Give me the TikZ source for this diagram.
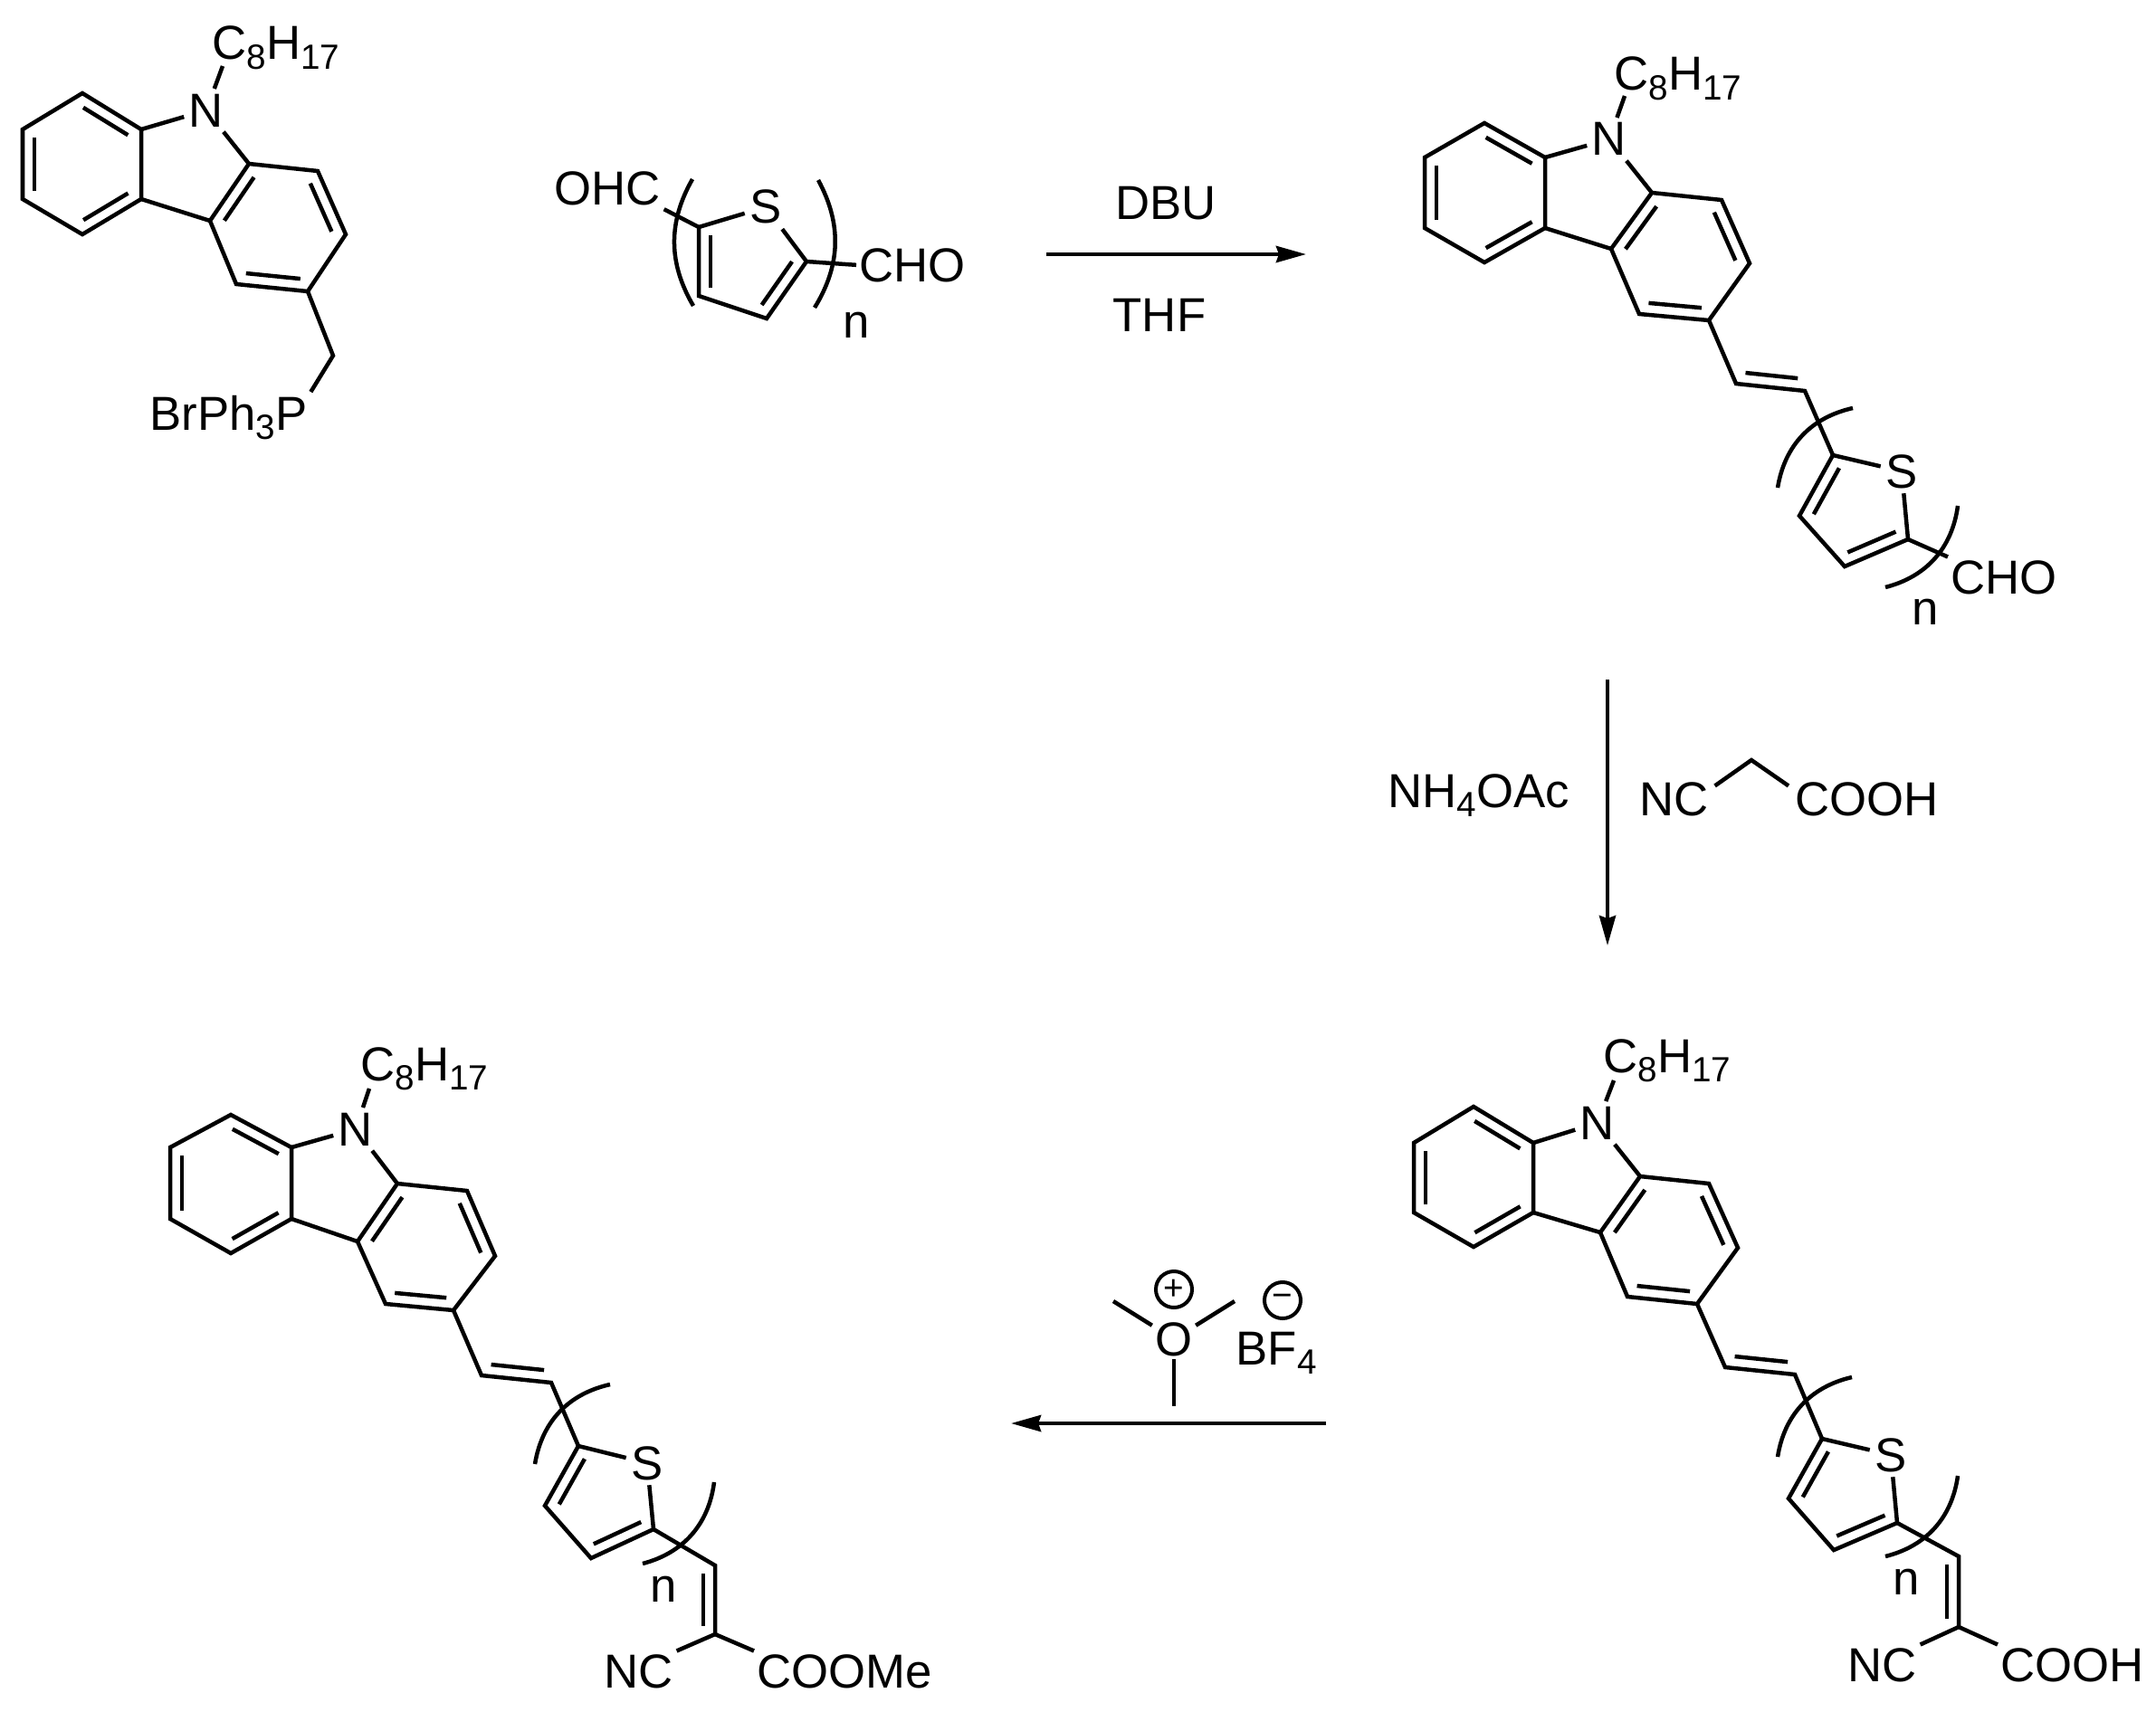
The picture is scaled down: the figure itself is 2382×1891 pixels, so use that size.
\documentclass[tikz,border=0pt]{standalone}
\usepackage{fontspec}
\setmainfont{Liberation Sans}
\usetikzlibrary{arrows.meta,calc}
\def\bondsep{.13cm}
\def\octyl{C\lowered{8}H\lowered{17}}
\newcommand{\lowered}[1]{\raisebox{-3pt}{\fontsize{11}{12}\selectfont #1}}
% inner line of a double bond, on the right of the way from #1 to #2
\newcommand{\dbl}[2]{\draw[bond] ($(#1)!.12!(#2)!\bondsep!-90:(#2)$) -- ($(#2)!.12!(#1)!\bondsep!90:(#1)$);}
% the two six-membered rings round the N atom
\newcommand{\carbazole}[1]{
    \draw[bond] (#1-a1) -- (#1-a2) -- (#1-a3) -- (#1-a4) -- (#1-a5) -- (#1-a6) -- cycle;
    \draw[bond] (#1-c1) -- (#1-c2) -- (#1-c3) -- (#1-c4) -- (#1-c5) -- (#1-c6) -- cycle;
    \draw[bond] (#1-a3) -- (#1-c6);
    \draw[bond] (#1-a2) -- (#1-N);
    \draw[bond] (#1-c1) -- (#1-N);
    \draw[bond] (#1-N) -- (#1-tail);
    \dbl{#1-a1}{#1-a2} \dbl{#1-a3}{#1-a4} \dbl{#1-a5}{#1-a6}
    \dbl{#1-c6}{#1-c1} \dbl{#1-c2}{#1-c3} \dbl{#1-c4}{#1-c5}
}
% thiophene ring with its two brackets
\newcommand{\thiophene}[2]{
    \draw[bond] (#1-t1) -- (#1-S);
    \draw[bond] (#1-S) -- (#1-t4);
    \draw[bond] (#1-t4) -- (#1-t3) -- (#1-t2) -- (#1-t1);
    \dbl{#1-t2}{#1-t1} \dbl{#1-t4}{#1-t3}
    \draw[bond] (#1-l1) to[bend right=#2] (#1-l3);
    \draw[bond] (#1-r1) to[bend left=#2] (#1-r3);
}
% vinylene link between the two parts
\newcommand{\vinylene}[1]{
    \draw[bond] (#1-c4) -- (#1-v1) -- (#1-v2) -- (#1-t1);
    \dbl{#1-v2}{#1-v1}
}

\begin{document}
\begin{tikzpicture}[x=.01cm,y=-.01cm]
    \tikzstyle{bond}=[line width=.045cm]
    \tikzstyle{chemtext}=[anchor=base west,inner sep=.03cm,xshift=-.03cm,font=\fontsize{15}{18}\selectfont]
    \tikzstyle{atom}=[anchor=base,inner sep=.05cm,font=\fontsize{15}{18}\selectfont]
    \tikzstyle{charge}=[draw,circle,line width=.04cm,minimum size=.4cm,inner sep=0pt,font=\fontsize{11}{12}\selectfont]
    \tikzstyle{reaction}=[line width=.045cm,-{Stealth[length=.33cm,width=.18cm,inset=.03cm]}]
    \useasboundingbox (0,0) rectangle (2382,1891);

    % Starting phosphonium salt
    \foreach \name / \x / \y in {a1/91/103,a2/156/143,a3/156/220,a4/91/259,a5/25/220,a6/25/143,
        c1/275/181,c2/351/189,c3/382/259,c4/340/322,c5/261/314,c6/232/244,ch/368/393,tail/246/73}
        \coordinate (A-\name) at (\x,\y);
    \node[atom] (A-N) at (228,140) {N};
    \node[chemtext] (A-R) at (234,66) {\octyl};
    \node[chemtext] (A-P) at (165,475) {BrPh\lowered{3}P};
    \carbazole{A}
    \draw[bond] (A-c4) -- (A-ch) -- (A-P.north east);

    % Thiophene dialdehyde
    \foreach \name / \x / \y in {t1/772/251,t2/772/327,t3/847/352,t4/891/289,
        l1/765/198,l3/766/338,r1/904/199,r3/900/340}
        \coordinate (B-\name) at (\x,\y);
    \node[atom] (B-S) at (846,247) {S};
    \node[atom] (B-n) at (946,373) {n};
    \node[chemtext] (B-OHC) at (612,227) {OHC};
    \node[chemtext] (B-CHO) at (949,311) {CHO};
    \thiophene{B}{30}
    \draw[bond] (B-t1) -- (B-OHC.south east);
    \draw[bond] (B-t4) -- (B-CHO.west);

    % Wittig product
    \foreach \name / \x / \y in {a1/1640/136,a2/1707/174,a3/1707/252,a4/1640/290,a5/1574/252,a6/1574/174,
        c1/1825/213,c2/1902/221,c3/1933/291,c4/1888/354,c5/1811/347,c6/1780/275,
        v1/1918/424,v2/1994/432,t1/2025/503,t2/1988/570,t3/2038/626,t4/2108/596,tail/1795/106,
        l1/2047/451,l3/1964/539,r1/2163/559,r3/2083/649}
        \coordinate (C-\name) at (\x,\y);
    \node[atom] (C-N) at (1778,172) {N};
    \node[atom] (C-S) at (2101,539) {S};
    \node[atom] (C-n) at (2127,690) {n};
    \node[chemtext] (C-R) at (1783,100) {\octyl};
    \node[chemtext] (C-CHO) at (2155,656) {CHO};
    \carbazole{C}
    \thiophene{C}{34}
    \vinylene{C}
    \draw[bond] (C-t4) -- (C-CHO.north west);

    % Cyanoacrylic acid
    \foreach \name / \x / \y in {a1/1628/1223,a2/1694/1263,a3/1694/1340,a4/1628/1378,a5/1562/1340,a6/1562/1263,
        c1/1812/1300,c2/1888/1308,c3/1920/1379,c4/1875/1441,c5/1798/1433,c6/1768/1362,
        v1/1906/1511,v2/1983/1519,t1/2013/1590,t2/1976/1656,t3/2026/1713,t4/2096/1683,
        v3/2164/1720,v4/2164/1798,tail/1783/1194,
        l1/2046/1522,l3/1964/1610,r1/2163/1631,r3/2083/1720}
        \coordinate (D-\name) at (\x,\y);
    \node[atom] (D-N) at (1765,1259) {N};
    \node[atom] (D-S) at (2089,1626) {S};
    \node[atom] (D-n) at (2106,1762) {n};
    \node[chemtext] (D-R) at (1771,1185) {\octyl};
    \node[chemtext] (D-NC) at (2041,1858) {NC};
    \node[chemtext] (D-COOH) at (2210,1858) {COOH};
    \carbazole{D}
    \thiophene{D}{34}
    \vinylene{D}
    \draw[bond] (D-t4) -- (D-v3) -- (D-v4);
    \dbl{D-v3}{D-v4}
    \draw[bond] (D-v4) -- (D-NC.north east);
    \draw[bond] (D-v4) -- (D-COOH.north west);

    % Methyl ester
    \foreach \name / \x / \y in {a1/255/1232,a2/322/1268,a3/322/1347,a4/255/1385,a5/188/1347,a6/188/1268,
        c1/439/1308,c2/516/1316,c3/547/1388,c4/501/1448,c5/426/1441,c6/395/1372,
        v1/532/1520,v2/609/1528,t1/639/1598,t2/602/1664,t3/653/1722,t4/722/1690,
        v3/790/1730,v4/790/1806,tail/408/1203,
        l1/674/1530,l3/591/1618,r1/789/1638,r3/710/1728}
        \coordinate (E-\name) at (\x,\y);
    \node[atom] (E-N) at (393,1266) {N};
    \node[atom] (E-S) at (715,1635) {S};
    \node[atom] (E-n) at (733,1770) {n};
    \node[chemtext] (E-R) at (398,1194) {\octyl};
    \node[chemtext] (E-NC) at (667,1865) {NC};
    \node[chemtext] (E-COOMe) at (836,1865) {COOMe};
    \carbazole{E}
    \thiophene{E}{34}
    \vinylene{E}
    \draw[bond] (E-t4) -- (E-v3) -- (E-v4);
    \dbl{E-v3}{E-v4}
    \draw[bond] (E-v4) -- (E-NC.north east);
    \draw[bond] (E-v4) -- (E-COOMe.north west);

    % Reaction arrows
    \foreach \name / \x / \y in {p1/1156/281,p2/1443/281,q1/1776/751,q2/1776/1045,s1/1465/1573,s2/1117/1573}
        \coordinate (\name) at (\x,\y);
    \draw[reaction] (p1) -- (p2);
    \draw[reaction] (q1) -- (q2);
    \draw[reaction] (s1) -- (s2);

    % Reagents of the first step
    \node[chemtext] (DBU) at (1232,242) {DBU};
    \node[chemtext] (THF) at (1229,366) {THF};

    % Reagents of the second step
    \node[chemtext] (ammonium) at (1533,892) {NH\lowered{4}OAc};
    \node[chemtext] (F-NC) at (1811,901) {NC};
    \node[chemtext] (F-COOH) at (1983,901) {COOH};
    \coordinate (F-ch) at (1935,840);
    \draw[bond] ([shift={(3,8)}]F-NC.north east) -- (F-ch) -- ([shift={(-4,8)}]F-COOH.north west);

    % Reagent of the third step
    \foreach \name / \x / \y in {m1/1230/1438,m2/1364/1438,m3/1297/1554}
        \coordinate (G-\name) at (\x,\y);
    \node[atom,inner sep=.03cm] (G-O) at (1297,1498) {O};
    \node[charge] (G-plus) at (1297,1425) {+};
    \node[charge] (G-minus) at (1417,1437) {−};
    \node[chemtext] (G-BF) at (1365,1508) {BF\lowered{4}};
    \foreach \name in {m1,m2,m3}
        \draw[bond] (G-O) -- (G-\name);
\end{tikzpicture}
\end{document}
